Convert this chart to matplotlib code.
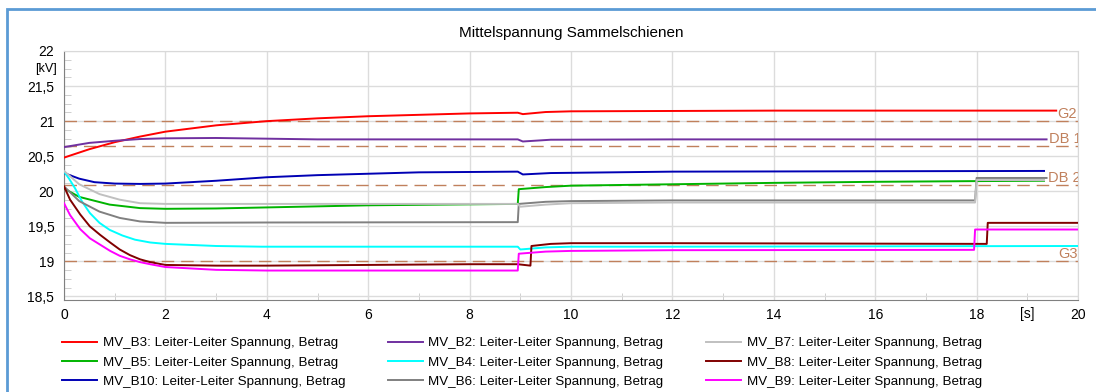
"""Mittelspannung Sammelschienen - Spannungsverlauf der MV-Sammelschienen."""

import matplotlib.pyplot as plt
from matplotlib.patches import Rectangle
from matplotlib.ticker import MultipleLocator

plt.rcParams['font.family'] = ['Liberation Sans', 'DejaVu Sans']

# Zeitreihen (t in s, U in kV)
t_b3 = [0, 0.5, 1, 1.5, 2, 3, 4, 5, 6, 7, 8, 8.95, 9.05, 9.5, 10, 12, 14, 16, 19.57]
u_b3 = [20.48, 20.6, 20.7, 20.78, 20.85, 20.94, 21.0, 21.04, 21.07, 21.09, 21.11, 21.12,
        21.1, 21.13, 21.14, 21.145, 21.15, 21.15, 21.15]

t_b2 = [0, 0.5, 1, 1.5, 2, 3, 4, 5, 8.95, 9.05, 9.6, 12, 19.38]
u_b2 = [20.63, 20.69, 20.72, 20.745, 20.755, 20.76, 20.75, 20.74, 20.74, 20.71, 20.735,
        20.74, 20.74]

t_b10 = [0, 0.3, 0.6, 1, 1.5, 2, 3, 4, 5, 6, 7, 8.95, 9.05, 9.6, 12, 19.33]
u_b10 = [20.26, 20.18, 20.13, 20.11, 20.105, 20.11, 20.15, 20.2, 20.23, 20.25, 20.27, 20.28,
         20.24, 20.26, 20.28, 20.29]

t_b5 = [0, 0.3, 0.9, 1.5, 2, 3, 4, 6, 8.95, 8.97, 9.5, 10, 12, 14, 16, 18, 19.33]
u_b5 = [20.04, 19.92, 19.81, 19.76, 19.75, 19.755, 19.77, 19.8, 19.82, 20.03, 20.06, 20.08,
        20.1, 20.12, 20.135, 20.145, 20.15]

t_b7 = [0, 0.3, 0.7, 1.1, 1.5, 2, 4, 8.95, 9.0, 9.5, 10, 12, 17.97, 18.0, 19.33]
u_b7 = [20.29, 20.1, 19.96, 19.88, 19.83, 19.82, 19.82, 19.82, 19.78, 19.81, 19.83, 19.84,
        19.84, 20.16, 20.16]

t_b6 = [0, 0.3, 0.7, 1.1, 1.5, 2, 4, 8.95, 8.97, 9.5, 10, 12, 17.97, 18.0, 19.38]
u_b6 = [20.07, 19.86, 19.71, 19.62, 19.57, 19.55, 19.555, 19.56, 19.82, 19.85, 19.86, 19.87,
        19.87, 20.19, 20.19]

t_b4 = [0, 0.1, 0.22, 0.35, 0.51, 0.7, 0.9, 1.15, 1.4, 1.7, 2, 3, 3.9, 6, 8.95, 9.0, 9.5, 10,
        12, 20]
u_b4 = [20.28, 20.18, 20.04, 19.86, 19.69, 19.55, 19.45, 19.37, 19.31, 19.27, 19.25, 19.22,
        19.21, 19.21, 19.21, 19.17, 19.2, 19.21, 19.21, 19.22]

t_b8 = [0, 0.12, 0.32, 0.51, 0.71, 0.91, 1.1, 1.3, 1.5, 1.7, 2, 3, 4, 6, 8, 8.95, 9.2, 9.22,
        9.6, 10, 12, 18.2, 18.22, 20]
u_b8 = [20.07, 19.88, 19.67, 19.5, 19.38, 19.27, 19.17, 19.09, 19.03, 18.99, 18.95, 18.94,
        18.94, 18.95, 18.96, 18.96, 18.94, 19.22, 19.25, 19.26, 19.26, 19.25, 19.55, 19.55]

t_b9 = [0, 0.12, 0.32, 0.51, 0.71, 0.91, 1.1, 1.3, 1.5, 1.7, 2, 3, 4, 8.95, 8.97, 9.5, 10,
        12, 17.95, 17.97, 20]
u_b9 = [19.83, 19.66, 19.46, 19.33, 19.24, 19.15, 19.08, 19.03, 18.99, 18.96, 18.92, 18.88,
        18.87, 18.87, 19.11, 19.14, 19.15, 19.16, 19.165, 19.455, 19.455]

# Grenzwerte
ref_names = ['G2', 'DB 1', 'DB 2', 'G3']
ref_values = [21.0, 20.65, 20.095, 19.0]
ref_label_x = [19.6, 19.43, 19.41, 19.62]

label = ': Leiter-Leiter Spannung, Betrag'
series = [
    ('MV_B3', t_b3, u_b3, '#ff0000'),
    ('MV_B5', t_b5, u_b5, '#00b400'),
    ('MV_B10', t_b10, u_b10, '#0000b4'),
    ('MV_B2', t_b2, u_b2, '#7030a0'),
    ('MV_B4', t_b4, u_b4, '#00ffff'),
    ('MV_B6', t_b6, u_b6, '#808080'),
    ('MV_B7', t_b7, u_b7, '#c0c0c0'),
    ('MV_B8', t_b8, u_b8, '#800000'),
    ('MV_B9', t_b9, u_b9, '#ff00ff'),
]

fig = plt.figure(figsize=(10.96, 3.92), dpi=100)
ax = fig.add_axes([64 / 1096, 1 - 300 / 392, (1078 - 64) / 1096, (300 - 51) / 392])

# Rahmen
fig.patches.append(Rectangle((7 / 1096, -0.1), 1.2, 1.1 - 9 / 392, transform=fig.transFigure,
                             fill=False, edgecolor='#5b9bd5', linewidth=2))

# Grenzlinien
ref_color = '#c0805c'
for name, val, lx in zip(ref_names, ref_values, ref_label_x):
    ax.axhline(val, color=ref_color, linewidth=1, dashes=(9, 5), zorder=1)
    ax.text(lx, val + 0.1, name, color=ref_color, fontsize=10.5, va='center', ha='left',
            clip_on=True)

handles = []
for name, t, u, c in series:
    line, = ax.plot(t, u, color=c, linewidth=1.4, label=name + label, zorder=3)
    handles.append(line)

# Achsen
ax.set_xlim(0, 20)
ax.set_ylim(18.45, 22)
ax.set_xticks(range(0, 21, 2))
ax.set_xticklabels([str(v) for v in range(0, 19, 2)] + ['20'])
ax.set_yticks([18.5, 19, 19.5, 20, 20.5, 21, 21.5, 22])
ax.set_yticklabels(['18,5', '19', '19,5', '20', '20,5', '21', '21,5', '22'])
ax.xaxis.set_minor_locator(MultipleLocator(1))
ax.yaxis.set_minor_locator(MultipleLocator(0.125))
ax.tick_params(which='major', length=0, labelsize=10, colors='#000000')
ax.tick_params(axis='y', which='major', pad=7)
ax.tick_params(axis='x', which='major', pad=5.5)
ax.tick_params(which='minor', direction='in', length=5, color='#c8c8c8')
ax.grid(which='major', color='#dcdcdc', linewidth=1)
ax.set_axisbelow(True)
for side in ['left', 'bottom']:
    ax.spines[side].set_color('#808080')
for side in ['top', 'right']:
    ax.spines[side].set_color('#d9d9d9')

ax.text(-0.007, 21.75, '[kV]', transform=ax.get_yaxis_transform(), ha='right', va='center',
        fontsize=9)
ax.text(19, -0.03, '[s]', transform=ax.get_xaxis_transform(), ha='center', va='top',
        fontsize=10)

ax.set_title('Mittelspannung Sammelschienen', fontsize=11, pad=10)

fig.legend(handles=handles, loc='upper left', bbox_to_anchor=(62 / 1096, 1 - 337 / 392),
           ncol=3, frameon=False, fontsize=9.6, handlelength=2.63, handletextpad=0.42,
           columnspacing=3.2, labelspacing=0.52, borderpad=0, borderaxespad=0)

plt.savefig('out.png', dpi=100)
